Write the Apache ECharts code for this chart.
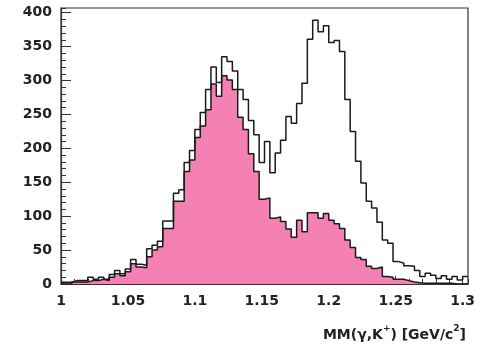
<!DOCTYPE html>
<html>
<head>
<meta charset="utf-8">
<script src="https://cdn.jsdelivr.net/npm/echarts@6/dist/echarts.min.js"></script>
<style>html,body{margin:0;padding:0;background:#fff;}#c{width:483px;height:344px;}</style>
</head>
<body>
<div id="c"></div>
<script>
// Bin edges (GeV/c^2), 0.004 wide
const binEdges = [1.000, 1.004, 1.008, 1.012, 1.016, 1.020, 1.024, 1.028, 1.032, 1.036,
  1.040, 1.044, 1.048, 1.052, 1.056, 1.060, 1.064, 1.068, 1.072, 1.076,
  1.080, 1.084, 1.088, 1.092, 1.096, 1.100, 1.104, 1.108, 1.112, 1.116,
  1.120, 1.124, 1.128, 1.132, 1.136, 1.140, 1.144, 1.148, 1.152, 1.156,
  1.160, 1.164, 1.168, 1.172, 1.176, 1.180, 1.184, 1.188, 1.192, 1.196,
  1.200, 1.204, 1.208, 1.212, 1.216, 1.220, 1.224, 1.228, 1.232, 1.236,
  1.240, 1.244, 1.248, 1.252, 1.256, 1.260, 1.264, 1.268, 1.272, 1.276,
  1.280, 1.284, 1.288, 1.292, 1.296, 1.300, 1.304];

// Total counts (open histogram)
const totalCounts = [2.5, 2.5, 5, 5, 5, 10, 7, 10, 7, 14,
  20, 15, 22, 36, 29, 27.5, 52, 57, 63, 93,
  93, 134, 139, 179, 197, 228, 253, 287, 320, 297,
  335, 328, 314, 287, 272, 241, 220, 179, 210, 164,
  193, 212, 247, 237, 266, 296, 361, 389, 372, 381,
  356, 359, 343, 272, 225, 181, 149, 122, 112, 91,
  65, 60, 33, 31, 27, 26, 20, 11, 16, 13,
  8, 12, 7, 11, 6, 11];

// Selected counts (pink filled histogram)
const selectedCounts = [0, 0, 3, 3, 3, 5, 5, 7, 5, 10,
  15, 12, 18, 30, 25, 24, 40, 50, 55, 82,
  82, 122, 122, 166, 183, 216, 233, 257, 295, 277,
  307, 301, 287, 246, 228, 192, 166, 125, 127, 97,
  99, 92, 81, 69, 94, 77, 105, 105, 97, 104,
  94, 89, 82, 65, 54, 39, 36, 26, 23, 25,
  11, 10, 7, 7, 5, 3, 2, 1, 1, 1,
  1, 1, 1, 0, 0, 0];

const xTickLabels = ['1', '1.05', '1.1', '1.15', '1.2', '1.25', '1.3'];
const yTickLabels = ['0', '50', '100', '150', '200', '250', '300', '350', '400'];

function toSteps(vals) {
  const pts = vals.map((v, i) => [binEdges[i], v]);
  pts.push([binEdges[binEdges.length - 1], vals[vals.length - 1]]);
  return pts;
}

const FONT = 'DejaVu Sans';
const chart = echarts.init(document.getElementById('c'));
chart.setOption({
  animation: false,
  backgroundColor: '#fff',
  title: {
    text: '{a|MM(γ,K}{s|+}{a|) [GeV/c}{s|2}{a|]}',
    right: 12, top: 319,
    textStyle: {
      rich: {
        a: { fontFamily: FONT, fontSize: 14, fontWeight: 'bold', color: '#222', lineHeight: 18, verticalAlign: 'bottom' },
        s: { fontFamily: FONT, fontSize: 9, fontWeight: 'bold', color: '#222', lineHeight: 18, verticalAlign: 'top' }
      }
    }
  },
  grid: { left: 61, right: 15, top: 8, bottom: 60, show: true, borderColor: '#333', borderWidth: 1.2, backgroundColor: 'transparent' },
  xAxis: [{
    type: 'value', min: 1.0, max: 1.304, interval: 0.05, position: 'bottom',
    axisLine: { show: true, lineStyle: { color: '#333', width: 1.2 } },
    axisTick: { show: true, inside: true, length: 8, lineStyle: { color: '#333' } },
    splitLine: { show: false },
    axisLabel: {
      fontFamily: FONT, fontSize: 14, fontWeight: 'bold', color: '#222', margin: 10, showMaxLabel: false,
      formatter: v => { const s = String(+v.toFixed(3)); return xTickLabels.includes(s) ? s : ''; }
    }
  }, {
    type: 'value', min: 1.0, max: 1.304, interval: 0.01, position: 'bottom',
    axisLine: { show: false },
    axisTick: { show: true, inside: true, length: 5, lineStyle: { color: '#333' } },
    splitLine: { show: false }, axisLabel: { show: false }
  }],
  yAxis: [{
    type: 'value', min: 0, max: 407, interval: 50, position: 'left',
    axisLine: { show: true, lineStyle: { color: '#333', width: 1.2 } },
    axisTick: { show: true, inside: true, length: 10, lineStyle: { color: '#333' } },
    splitLine: { show: false },
    axisLabel: {
      fontFamily: FONT, fontSize: 14, fontWeight: 'bold', color: '#222', margin: 9, showMaxLabel: false,
      formatter: v => { const s = String(Math.round(v)); return yTickLabels.includes(s) && Math.abs(v - Math.round(v)) < 1e-6 ? s : ''; }
    }
  }, {
    type: 'value', min: 0, max: 407, interval: 10, position: 'left',
    axisLine: { show: false },
    axisTick: { show: true, inside: true, length: 5, lineStyle: { color: '#333' } },
    splitLine: { show: false }, axisLabel: { show: false }
  }],
  series: [{
    type: 'line', step: 'end', xAxisIndex: 0, yAxisIndex: 0,
    data: toSteps(selectedCounts), symbol: 'none',
    lineStyle: { color: '#1a1a1a', width: 1.5 },
    areaStyle: { color: '#f580b4', opacity: 1 }
  }, {
    type: 'line', step: 'end', xAxisIndex: 0, yAxisIndex: 0,
    data: toSteps(totalCounts), symbol: 'none',
    lineStyle: { color: '#1a1a1a', width: 1.5 }
  }]
});
</script>
</body>
</html>
